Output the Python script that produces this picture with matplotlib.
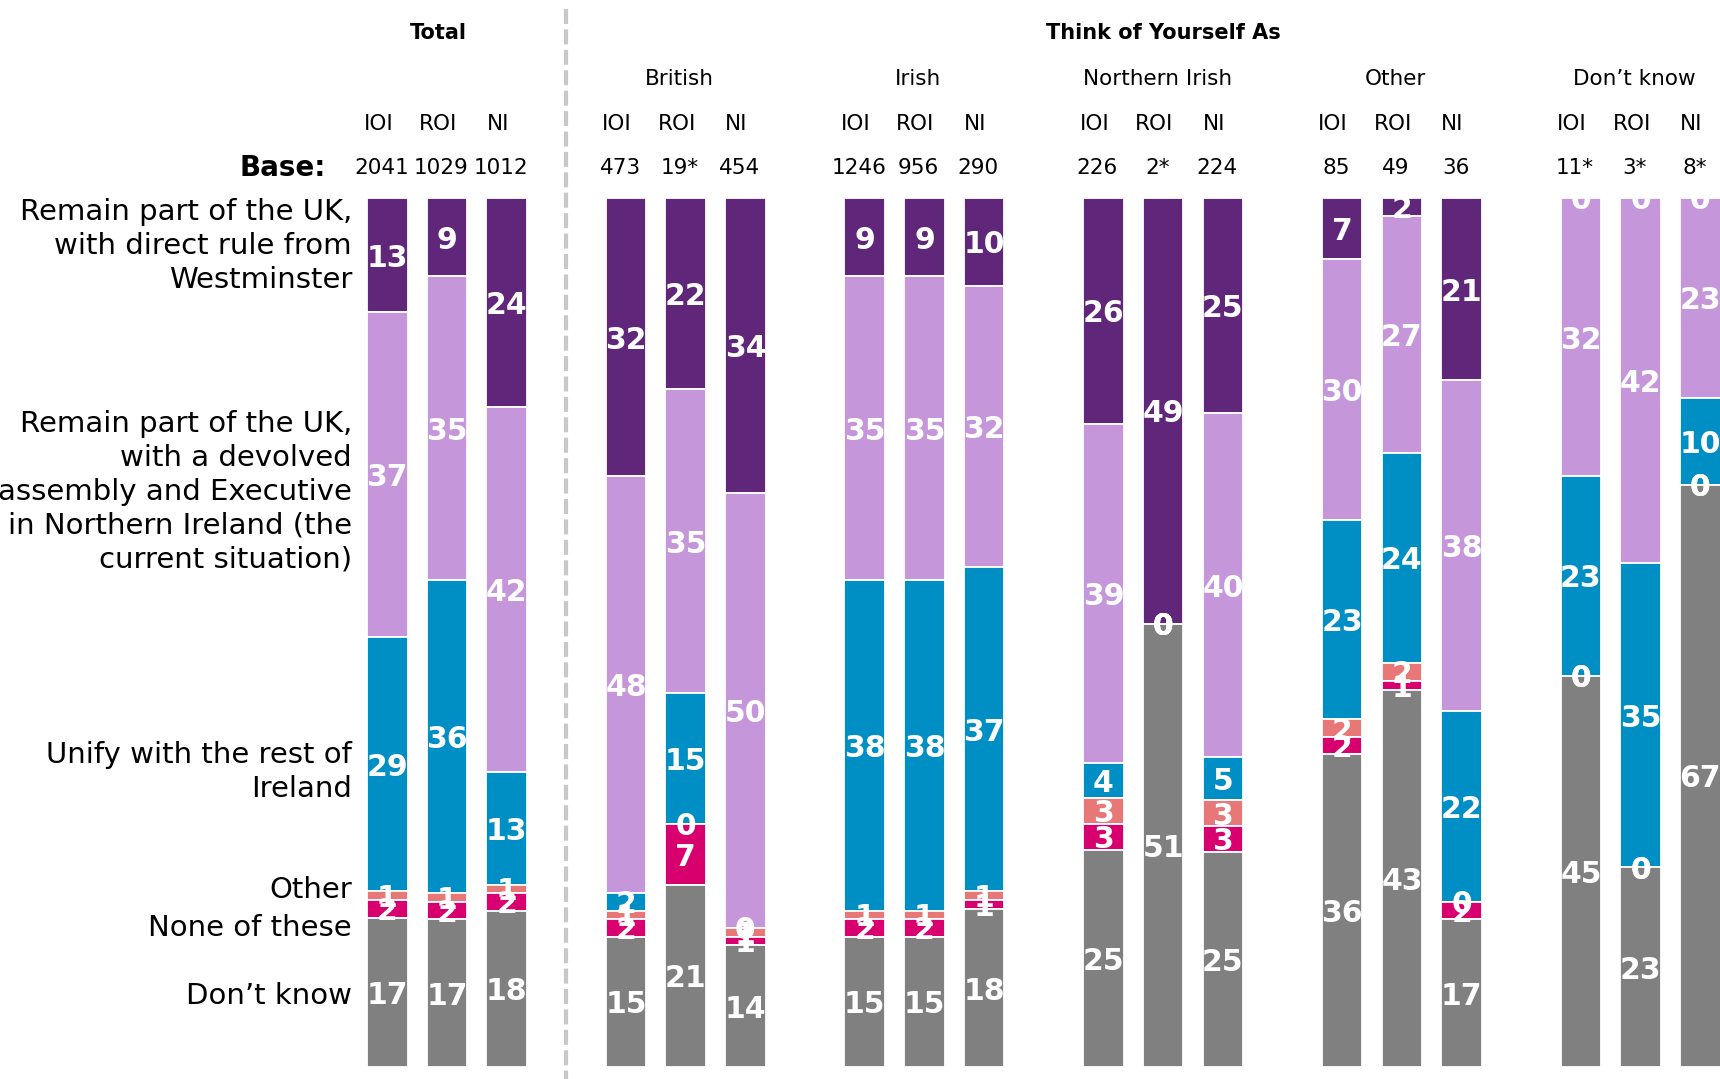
import matplotlib
matplotlib.use("Agg")
import matplotlib.pyplot as plt
import numpy as np

plt.rcParams['font.family'] = ['DejaVu Sans']

# ---------------- data ----------------
groups = ["Total", "British", "Irish", "Northern Irish", "Other", "Don\u2019t know"]
regions = ["IOI", "ROI", "NI"]
bases = ["2041", "1029", "1012", "473", "19*", "454", "1246", "956", "290",
         "226", "2*", "224", "85", "49", "36", "11*", "3*", "8*"]
categories = ["Remain part of the UK,\nwith direct rule from\nWestminster",
              "Remain part of the UK,\nwith a devolved\nassembly and Executive\nin Northern Ireland (the\ncurrent situation)",
              "Unify with the rest of\nIreland",
              "Other",
              "None of these",
              "Don\u2019t know"]

direct_rule = [13, 9, 24, 32, 22, 34, 9, 9, 10, 26, 49, 25, 7, 2, 21, 0, 0, 0]
devolved    = [37, 35, 42, 48, 35, 50, 35, 35, 32, 39, 0, 40, 30, 27, 38, 32, 42, 23]
unify       = [29, 36, 13, 2, 15, 0, 38, 38, 37, 4, 0, 5, 23, 24, 22, 23, 35, 10]
other       = [1, 1, 1, 1, 0, 1, 1, 1, 1, 3, 0, 3, 2, 2, 0, 0, 0, 0]
none_these  = [2, 2, 2, 2, 7, 1, 2, 2, 1, 3, 0, 3, 2, 1, 2, 0, 0, 0]
dont_know   = [17, 17, 18, 15, 21, 14, 15, 15, 18, 25, 51, 25, 36, 43, 17, 45, 23, 67]

series = [direct_rule, devolved, unify, other, none_these, dont_know]
colors = ["#602679", "#C597DA", "#008FC4", "#E87878", "#D7006E", "#808080"]

# ---------------- figure ----------------
fig = plt.figure(figsize=(17.2, 10.79), dpi=100)
ax = fig.add_axes([0, 0, 1, 1])
ax.set_xlim(-6.488, 22.33)
ax.set_ylim(101.38, -22.78)
ax.axis("off")

n_groups = len(groups)
xpos = np.array([g * 4 + k for g in range(n_groups) for k in range(3)], dtype=float)

vals = np.array(series, dtype=float)          # shape (6 series, 18 bars)
totals = vals.sum(axis=0)
norm = vals / totals * 100.0                   # 100% stacked

bottom = np.zeros(len(xpos))
bar_w = 0.68
for s in range(len(series)):
    ax.bar(xpos, norm[s], bottom=bottom, width=bar_w, color=colors[s],
           edgecolor="white", linewidth=1.3, zorder=2)
    centers = bottom + norm[s] / 2
    for i in range(len(xpos)):
        ax.text(xpos[i], centers[i], str(series[s][i]), ha="center",
                va="center_baseline", color="white", fontweight="bold",
                fontsize=21.5, zorder=3 + s)
    bottom = bottom + norm[s]

# left category labels (percent positions)
cat_y = [5.5, 33.8, 66.0, 79.6, 84.0, 91.8]
for label, y in zip(categories, cat_y):
    ax.text(-0.59, y, label, ha="right", va="center", multialignment="right",
            fontsize=21, linespacing=1.27, color="black")

# headers
toff = -0.1
ax.text(1 - 0.14, -18.95, "Total", ha="center", va="center", fontsize=15,
        fontweight="bold")
ax.text(13, -18.95, "Think of Yourself As", ha="center", va="center",
        fontsize=15, fontweight="bold")
for g in range(1, n_groups):
    ax.text(g * 4 + 1 + toff, -13.7, groups[g], ha="center", va="center",
            fontsize=15.5)
for i, x in enumerate(xpos):
    ax.text(x + toff * 1.5, -8.55, regions[i % 3], ha="center", va="center",
            fontsize=15.5)
    ax.text(x + toff, -3.4, bases[i], ha="center", va="center", fontsize=15.5)
ax.text(-1.03, -3.4, "Base:", ha="right", va="center", fontsize=20,
        fontweight="bold")

# dashed separator
ax.plot([3, 3], [-21.75, 101.38], color="#C8C8C8", lw=3,
        dashes=(3.6, 1.3), zorder=1, clip_on=False)

fig.savefig("out.png", dpi=100)
